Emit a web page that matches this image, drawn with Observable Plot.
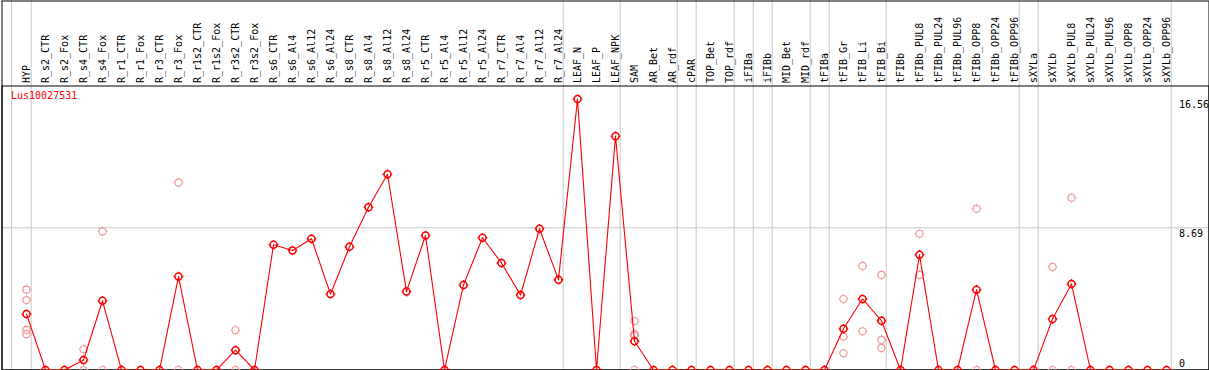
<!DOCTYPE html>
<html>
<head>
<meta charset="utf-8">
<script src="https://cdn.jsdelivr.net/npm/d3@7"></script>
<script src="https://cdn.jsdelivr.net/npm/@observablehq/plot@0.6"></script>
<style>
  html, body { margin: 0; padding: 0; background: #fff; }
  #chart svg { display: block; }
</style>
</head>
<body>
<div id="chart"></div>
<script>
const geneId = "Lus10027531";

const categories = [
  "HYP","R_s2_CTR","R_s2_Fox","R_s4_CTR","R_s4_Fox","R_r1_CTR","R_r1_Fox","R_r3_CTR","R_r3_Fox",
  "R_r1s2_CTR","R_r1s2_Fox","R_r3s2_CTR","R_r3s2_Fox","R_s6_CTR","R_s6_Al4","R_s6_Al12","R_s6_Al24",
  "R_s8_CTR","R_s8_Al4","R_s8_Al12","R_s8_Al24","R_r5_CTR","R_r5_Al4","R_r5_Al12","R_r5_Al24",
  "R_r7_CTR","R_r7_Al4","R_r7_Al12","R_r7_Al24","LEAF_N","LEAF_P","LEAF_NPK","SAM","AR_Bet","AR_rdf",
  "cPAR","TOP_Bet","TOP_rdf","iFIBa","iFIBb","MID_Bet","MID_rdf","tFIBa","tFIB_Gr","tFIB_Li","tFIB_Bi",
  "tFIBb","tFIBb_PUL8","tFIBb_PUL24","tFIBb_PUL96","tFIBb_OPP8","tFIBb_OPP24","tFIBb_OPP96",
  "sXYLa","sXYLb","sXYLb_PUL8","sXYLb_PUL24","sXYLb_PUL96","sXYLb_OPP8","sXYLb_OPP24","sXYLb_OPP96"
];

const means = [
  3.42, 0, 0, 0.61, 4.23, 0, 0, 0, 5.71,
  0, 0, 1.21, 0, 7.65, 7.30, 8.02, 4.64,
  7.53, 9.94, 11.96, 4.79, 8.22, 0, 5.20, 8.08,
  6.54, 4.58, 8.63, 5.52, 16.56, 0, 14.29, 1.76, 0, 0,
  0, 0, 0, 0, 0, 0, 0, 0, 2.52, 4.34, 3.01,
  0, 7.04, 0, 0, 4.91, 0, 0,
  0, 3.11, 5.26, 0, 0, 0, 0, 0
];

const repCategories = [
  "HYP","HYP","HYP","HYP",
  "R_s4_CTR","R_s4_CTR",
  "R_s4_Fox","R_s4_Fox",
  "R_r3_Fox","R_r3_Fox",
  "R_r3s2_CTR","R_r3s2_CTR",
  "SAM","SAM","SAM","SAM",
  "tFIB_Gr","tFIB_Gr","tFIB_Gr",
  "tFIB_Li","tFIB_Li",
  "tFIB_Bi","tFIB_Bi","tFIB_Bi",
  "tFIBb_PUL8","tFIBb_PUL8",
  "tFIBb_OPP8","tFIBb_OPP8",
  "sXYLb","sXYLb",
  "sXYLb_PUL8","sXYLb_PUL8"
];
const repValues = [
  4.91, 4.27, 2.45, 2.19,
  1.27, 0,
  8.47, 0,
  11.45, 0,
  2.43, 0,
  2.99, 2.19, 2.09, 0,
  4.34, 2.04, 1.02,
  6.36, 2.37,
  5.81, 1.84, 1.35,
  8.33, 5.81,
  9.86, 0,
  6.30, 0,
  10.53, 0
];

const tickValues = [0, 8.69, 16.56];
const tickLabels = ["0", "8.69", "16.56"];
const gridValues = [8.69];

const separatorsAfter = [
  "HYP","R_r7_Al24","LEAF_NPK","AR_rdf","cPAR","TOP_rdf","iFIBa","iFIBb",
  "MID_rdf","tFIBa","tFIB_Bi","tFIBb_OPP96","sXYLa","sXYLb_OPP96"
];
const leadingSeparator = ["HYP"];

const meanData = categories.map((c, i) => ({cat: c, v: means[i]}));
const repData = repCategories.map((c, i) => ({cat: c, v: repValues[i]}));
const tickData = tickValues.map((v, i) => ({v, label: tickLabels[i]}));

const crossCircle = {
  draw(ctx, size) {
    const r = Math.sqrt(size / Math.PI);
    ctx.moveTo(r, 0);
    ctx.arc(0, 0, r, 0, 2 * Math.PI);
    const a = r, b = r + 1.3;
    ctx.moveTo(0, -a); ctx.lineTo(0, -b);
    ctx.moveTo(0, a); ctx.lineTo(0, b);
    ctx.moveTo(-a, 0); ctx.lineTo(-b, 0);
    ctx.moveTo(a, 0); ctx.lineTo(b, 0);
  }
};

const font = "DejaVu Sans Mono";

const chart = Plot.plot({
  width: 1209,
  height: 370,
  marginTop: 85.5,
  marginBottom: 0.5,
  marginLeft: 1.5,
  marginRight: 0.5,
  style: {background: "#fff", fontFamily: font, fontSize: "10px"},
  x: {type: "point", domain: categories, padding: 0, insetLeft: 24.5, insetRight: 42.5, axis: null},
  y: {domain: [0, 16.56], insetTop: 13, axis: null},
  marks: [
    Plot.ruleY(gridValues, {y: d => d, stroke: "#c8c8c8", strokeWidth: 1}),
    Plot.ruleX(separatorsAfter, {x: d => d, dx: 4.7, stroke: "#c8c8c8", strokeWidth: 1, insetTop: -85.5}),
    Plot.ruleX(leadingSeparator, {x: d => d, dx: -15, stroke: "#c8c8c8", strokeWidth: 1, insetTop: -85.5}),
    Plot.frame({stroke: "black", strokeWidth: 1, insetTop: -85}),
    Plot.frame({stroke: "black", strokeWidth: 1}),
    Plot.text(categories, {
      x: d => d, text: d => d, frameAnchor: "top", dy: -3,
      rotate: -90, textAnchor: "start", lineAnchor: "middle",
      fill: "black", fontFamily: font, fontSize: 10
    }),
    Plot.text([geneId], {
      text: d => d, frameAnchor: "top-left", dx: 9, dy: 6,
      textAnchor: "start", lineAnchor: "top", fill: "red", fontFamily: font, fontSize: 10
    }),
    Plot.text(tickData.filter(d => d.v > 0), {
      y: "v", text: "label", frameAnchor: "right", dx: -30, dy: 2,
      textAnchor: "start", lineAnchor: "top", fill: "black", fontFamily: font, fontSize: 10
    }),
    Plot.text(tickData.filter(d => d.v === 0), {
      y: "v", text: "label", frameAnchor: "right", dx: -30, dy: -3,
      textAnchor: "start", lineAnchor: "bottom", fill: "black", fontFamily: font, fontSize: 10
    }),
    Plot.dot(repData, {
      x: "cat", y: "v", r: 3.5, symbol: crossCircle,
      stroke: "#ee9a9a", strokeWidth: 1.1, fill: "none"
    }),
    Plot.line(meanData, {x: "cat", y: "v", stroke: "red", strokeWidth: 1.1}),
    Plot.dot(meanData, {
      x: "cat", y: "v", r: 3.5, symbol: crossCircle,
      stroke: "red", strokeWidth: 1.5, fill: "none"
    })
  ]
});

document.getElementById("chart").appendChild(chart);
</script>
</body>
</html>
